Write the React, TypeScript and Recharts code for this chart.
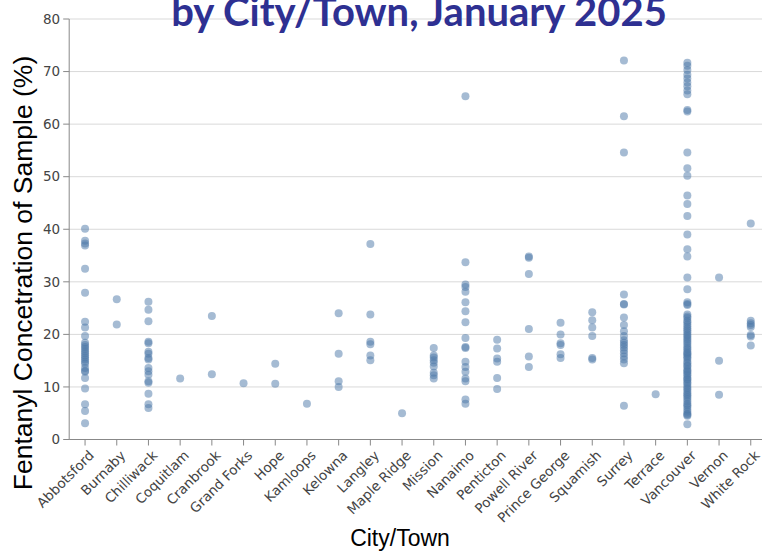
import React from "react";
import { ScatterChart, Scatter, XAxis, YAxis, CartesianGrid, Label } from "recharts";

const cities = [
  "Abbotsford", "Burnaby", "Chilliwack", "Coquitlam", "Cranbrook", "Grand Forks",
  "Hope", "Kamloops", "Kelowna", "Langley", "Maple Ridge", "Mission", "Nanaimo",
  "Penticton", "Powell River", "Prince George", "Squamish", "Surrey", "Terrace",
  "Vancouver", "Vernon", "White Rock",
];

const yTicks = [0, 10, 20, 30, 40, 50, 60, 70, 80];

const abbotsford = [40.1, 37.8, 37.3, 36.9, 32.5, 27.9, 22.4, 21.3, 19.7, 18.4, 18.0, 17.6, 17.2, 16.8, 16.4, 16.0, 15.6, 15.2, 14.8, 14.4, 13.6, 13.1, 12.9, 11.7, 9.7, 6.7, 5.4, 3.1];
const burnaby = [26.7, 21.9];
const chilliwack = [26.2, 24.7, 22.5, 18.6, 18.3, 16.7, 16.3, 15.5, 15.2, 13.6, 13.0, 12.3, 11.1, 10.8, 8.7, 6.7, 6.0];
const coquitlam = [11.6];
const cranbrook = [23.5, 12.4];
const grandForks = [10.7];
const hope = [14.4, 10.6];
const kamloops = [6.8];
const kelowna = [24.0, 16.3, 11.1, 10.0];
const langley = [37.2, 23.8, 18.6, 18.1, 16.0, 15.1];
const mapleRidge = [5.0];
const mission = [17.4, 16.0, 15.6, 15.1, 14.6, 13.9, 12.7, 12.2, 11.6];
const nanaimo = [65.3, 33.7, 29.5, 29.0, 28.1, 26.1, 24.4, 22.3, 19.3, 17.6, 17.4, 14.8, 13.8, 12.9, 11.6, 11.1, 7.6, 6.8];
const penticton = [19.0, 17.3, 15.4, 14.8, 11.7, 9.6];
const powellRiver = [34.8, 34.6, 31.5, 21.0, 15.8, 13.8];
const princeGeorge = [22.2, 20.0, 18.3, 18.0, 16.2, 15.5];
const squamish = [24.2, 22.7, 21.3, 19.7, 15.5, 15.2];
const surrey = [72.1, 61.5, 54.6, 27.6, 25.8, 25.7, 23.2, 21.8, 20.6, 19.7, 18.9, 18.4, 18.0, 17.5, 17.0, 16.4, 15.8, 15.2, 14.5, 6.4];
const terrace = [8.6];
const vancouver = [
  71.7, 71.1, 70.3, 69.4, 68.7, 67.9, 67.2, 66.4, 65.7, 62.7, 62.4, 54.6, 51.6, 50.2, 46.4, 44.8, 42.5, 39.0, 36.2, 34.8,
  30.8, 28.6, 26.1, 25.8, 25.6, 23.8, 23.4, 23.1, 22.6, 22.3, 21.9, 21.5, 21.1, 20.8, 20.4, 20.0, 19.7, 19.3, 19.0, 18.6,
  18.2, 17.8, 17.4, 17.1, 16.7, 16.4, 16.2, 15.9, 15.6, 15.3, 14.8, 14.5, 14.1, 13.9, 13.4, 13.1, 12.9, 12.5, 12.2, 11.8,
  11.5, 11.3, 10.9, 10.6, 10.2, 9.8, 9.5, 9.1, 8.7, 8.4, 8.1, 7.7, 7.3, 6.8, 6.5, 6.2, 5.7, 5.3, 4.9, 4.7, 4.5, 2.9,
];
const vernon = [30.8, 15.0, 8.5];
const whiteRock = [41.1, 22.6, 22.1, 21.8, 21.4, 19.9, 19.6, 17.9];

const valuesByCity = [
  abbotsford, burnaby, chilliwack, coquitlam, cranbrook, grandForks, hope, kamloops,
  kelowna, langley, mapleRidge, mission, nanaimo, penticton, powellRiver, princeGeorge,
  squamish, surrey, terrace, vancouver, vernon, whiteRock,
];

const points = valuesByCity.flatMap((vals, i) => vals.map((v) => ({ x: i, y: v, city: cities[i] })));
const xTicks = cities.map((_, i) => i);

const Dot = (props: any) => (
  <circle cx={props.cx} cy={props.cy} r={4} fill="#4c78a8" fillOpacity={0.5} />
);

const CityTick = (props: any) => {
  const { x, y, payload } = props;
  const ax = x + 3;
  const ay = y + 1;
  return (
    <text
      x={ax}
      y={ay}
      dy="0.71em"
      textAnchor="end"
      transform={`rotate(-45 ${ax} ${ay})`}
      fontSize={13.5}
      fill="#444"
      fontFamily="DejaVu Sans"
    >
      {cities[payload.value]}
    </text>
  );
};

const yTickFont = { fontSize: 13.5, fill: "#444", fontFamily: "DejaVu Sans" };

export default function App() {
  return (
    <div style={{ position: "fixed", left: 0, top: 0, width: 762, height: 553, overflow: "hidden", background: "#fff" }}>
      <ScatterChart width={790} height={553} margin={{ top: 19, right: 23.4, bottom: 0, left: 9.2 }}>
        <CartesianGrid vertical={false} stroke="#d9d9d9" />
        <XAxis
          type="number"
          dataKey="x"
          domain={[-0.5, 21.5]}
          ticks={xTicks}
          interval={0}
          tickSize={6}
          tickMargin={3}
          height={113.5}
          stroke="#888"
          tick={CityTick}
        >
          <Label
            content={() => (
              <text x={400} y={546} textAnchor="middle" fontSize={23} fontFamily="Liberation Sans" fill="#000">
                City/Town
              </text>
            )}
          />
        </XAxis>
        <YAxis
          type="number"
          dataKey="y"
          domain={[0, 80]}
          ticks={yTicks}
          tickSize={6}
          tickMargin={3}
          width={60}
          stroke="#888"
          tick={yTickFont}
        >
          <Label
            content={() => (
              <text x={32} y={273} transform="rotate(-90 32 273)" textAnchor="middle" fontSize={26.5} fontFamily="Liberation Sans" fill="#000">
                Fentanyl Concetration of Sample (%)
              </text>
            )}
          />
        </YAxis>
        <Scatter data={points} shape={Dot} isAnimationActive={false} />
        <text x={419} y={26} textAnchor="middle" fontSize={40} fontWeight="bold" fontFamily="Lato" fill="#2e3092">
          by City/Town, January 2025
        </text>
      </ScatterChart>
    </div>
  );
}
